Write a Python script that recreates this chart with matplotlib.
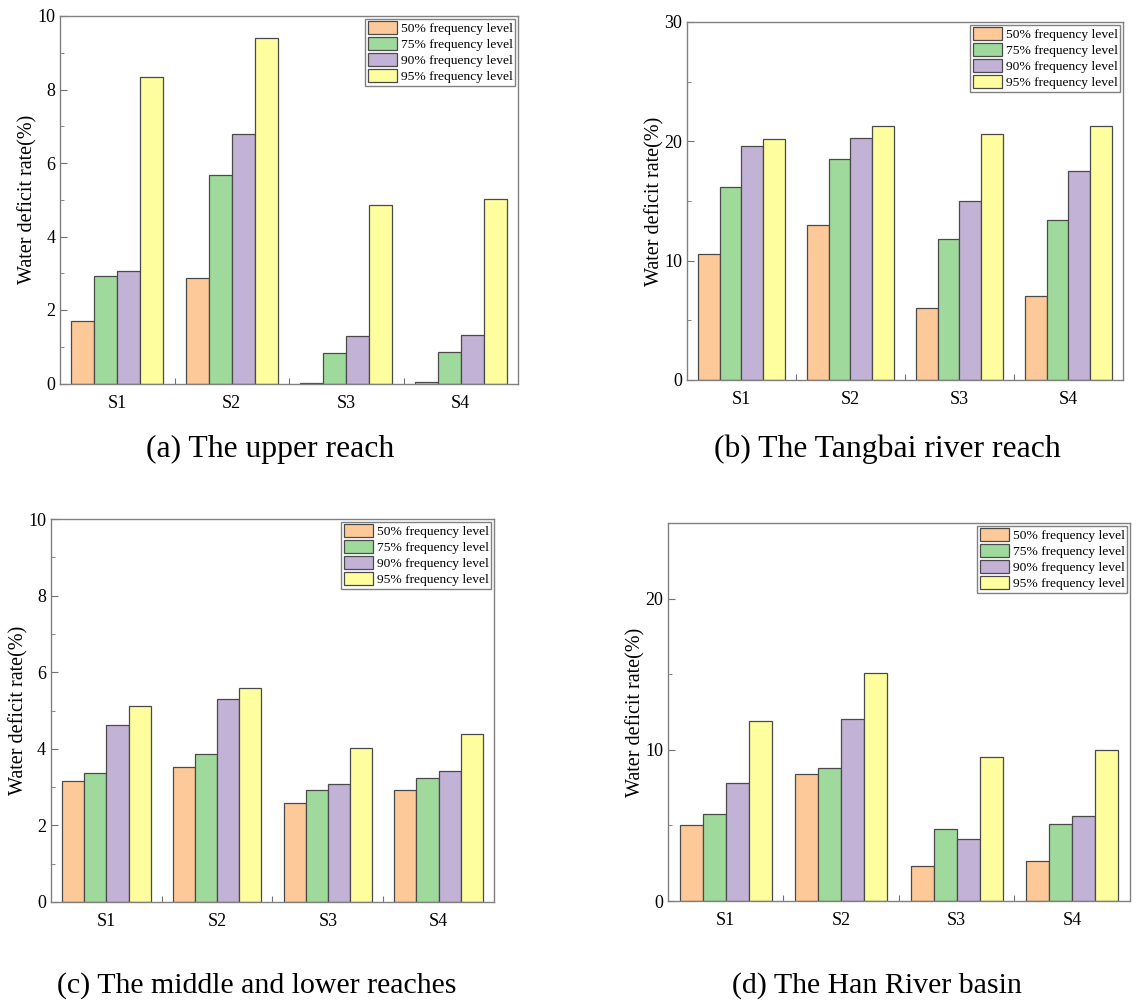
import numpy as np
import matplotlib.pyplot as plt
from matplotlib.ticker import MultipleLocator, FixedLocator, NullFormatter

plt.rcParams['font.family'] = ['Liberation Serif', 'DejaVu Serif']

# Datos
escenarios = ['S1', 'S2', 'S3', 'S4']
niveles = ['50% frequency level', '75% frequency level',
           '90% frequency level', '95% frequency level']
colores = ['#FDC998', '#A0D99C', '#C2B2D6', '#FFFE9F']

# (a) The upper reach: filas = nivel, columnas = S1..S4
alto_superior = [
    [1.70, 2.87, 0.02, 0.05],
    [2.92, 5.67, 0.83, 0.87],
    [3.05, 6.80, 1.30, 1.32],
    [8.33, 9.40, 4.86, 5.03],
]
# (b) The Tangbai river reach
tangbai = [
    [10.6, 13.0, 6.0, 7.0],
    [16.2, 18.5, 11.8, 13.4],
    [19.6, 20.3, 15.0, 17.5],
    [20.2, 21.3, 20.6, 21.3],
]
# (c) The middle and lower reaches
medio_bajo = [
    [3.17, 3.52, 2.59, 2.93],
    [3.37, 3.87, 2.92, 3.25],
    [4.62, 5.31, 3.09, 3.42],
    [5.11, 5.58, 4.03, 4.39],
]
# (d) The Han River basin
cuenca_han = [
    [5.04, 8.38, 2.32, 2.67],
    [5.77, 8.80, 4.75, 5.08],
    [7.78, 12.02, 4.13, 5.61],
    [11.89, 15.05, 9.52, 9.97],
]

paneles = [
    (alto_superior, '(a) The upper reach', [0.0525, 0.6165, 0.4007, 0.3675], 10, 2, 1),
    (tangbai, '(b) The Tangbai river reach', [0.601, 0.620, 0.3815, 0.358], 30, 10, 5),
    (medio_bajo, '(c) The middle and lower reaches', [0.0446, 0.098, 0.3876, 0.383], 10, 2, 1),
    (cuenca_han, '(d) The Han River basin', [0.5844, 0.099, 0.4042, 0.378], 25, 10, 5),
]
# posición y tamaño de los subtítulos
titulos_pos = [(0.236, 0.551, 22.8), (0.776, 0.551, 22.8),
               (0.225, 0.014, 21.5), (0.767, 0.014, 21.5)]

fig = plt.figure(figsize=(11.43, 10), dpi=100)
x = np.arange(len(escenarios))
ancho = 0.2

for (datos, titulo, pos, ymax, mayor, menor), (tx, ty, tam) in zip(paneles, titulos_pos):
    ax = fig.add_axes(pos)
    for i, (serie, color, nombre) in enumerate(zip(datos, colores, niveles)):
        ax.bar(x + (i - 1.5) * ancho, serie, ancho, color=color,
               edgecolor='#4a4a4a', linewidth=0.9, label=nombre)
    ax.set_xlim(-0.5, 3.5)
    ax.set_ylim(0, ymax)
    ax.yaxis.set_major_locator(MultipleLocator(mayor))
    ax.yaxis.set_minor_locator(MultipleLocator(menor))
    ax.xaxis.set_major_locator(FixedLocator([0.5, 1.5, 2.5]))
    ax.xaxis.set_major_formatter(NullFormatter())
    ax.xaxis.set_minor_locator(FixedLocator(x))
    ax.set_xticklabels(escenarios, minor=True)
    ax.tick_params(axis='x', which='minor', length=0, labelsize=13, pad=8)
    ax.tick_params(axis='x', which='major', direction='in', length=4, color='#707070')
    ax.tick_params(axis='y', which='both', direction='in', color='#707070', labelsize=13)
    ax.tick_params(axis='y', which='major', length=5)
    ax.tick_params(axis='y', which='minor', length=3)
    for s in ax.spines.values():
        s.set_color('#808080')
        s.set_linewidth(1.0)
    ax.set_ylabel('Water deficit rate(%)', fontsize=14.5, labelpad=0)
    leg = ax.legend(loc='upper right', fontsize=9.7, frameon=True, fancybox=False,
                    edgecolor='#606060', borderaxespad=0.2, handlelength=2.15,
                    handleheight=1.1, labelspacing=0.13, handletextpad=0.3,
                    borderpad=0.2)
    leg.get_frame().set_linewidth(1.0)
    fig.text(tx, ty, titulo, ha='center', va='center', fontsize=tam)

plt.savefig('out.png', dpi=100)
